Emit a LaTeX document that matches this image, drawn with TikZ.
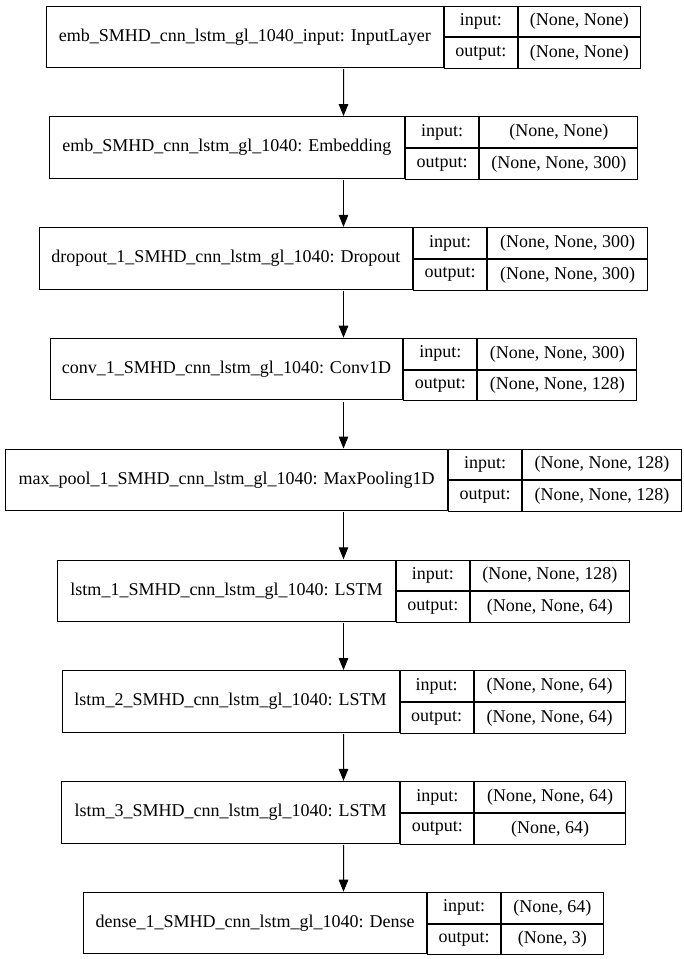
\documentclass[tikz,border=0pt]{standalone}
\usepackage{fontspec}
\setmainfont{Liberation Serif}
\usepackage{tikz}
\usetikzlibrary{arrows.meta,positioning,fit}
\tikzset{
    namecell/.style={
        rectangle,
        draw,
        line width=1pt,
        minimum height=61.5pt,
        inner sep=0pt,
        anchor=north west,
        text centered
    },
    keycell/.style={
        namecell,
        minimum width=73.3pt,
        minimum height=30.75pt
    },
    shapecell/.style={
        keycell
    },
    layerbox/.style={
        inner sep=0pt
    },
    flow/.style={
        -{Triangle[length=12pt,width=9.5pt]},
        line width=1pt
    }
}

\begin{document}
\begin{tikzpicture}[x=1pt,y=-1pt,font=\fontsize{18pt}{21pt}\selectfont]
    \useasboundingbox (0,0) rectangle (684,959);

    % Input layer
    \node[namecell, minimum width=396.6pt] (name1) at (46.05,5.5) {emb\_SMHD\_cnn\_lstm\_gl\_1040\_input: InputLayer};
    \node[keycell] (in1) at (name1.north east) {input:};
    \node[keycell] (out1) at (in1.south west) {output:};
    \node[shapecell, minimum width=122pt] (ishape1) at (in1.north east) {(None, None)};
    \node[shapecell, minimum width=122pt] (oshape1) at (out1.north east) {(None, None)};
    \node[layerbox, fit=(name1)(oshape1)] (layer1) {};

    % Embedding
    \node[namecell, minimum width=355.3pt] (name2) at (48.7,116.3) {emb\_SMHD\_cnn\_lstm\_gl\_1040: Embedding};
    \node[keycell] (in2) at (name2.north east) {input:};
    \node[keycell] (out2) at (in2.south west) {output:};
    \node[shapecell, minimum width=158pt] (ishape2) at (in2.north east) {(None, None)};
    \node[shapecell, minimum width=158pt] (oshape2) at (out2.north east) {(None, None, 300)};
    \node[layerbox, fit=(name2)(oshape2)] (layer2) {};

    % Dropout
    \node[namecell, minimum width=373pt] (name3) at (39,227.1) {dropout\_1\_SMHD\_cnn\_lstm\_gl\_1040: Dropout};
    \node[keycell] (in3) at (name3.north east) {input:};
    \node[keycell] (out3) at (in3.south west) {output:};
    \node[shapecell, minimum width=159.7pt] (ishape3) at (in3.north east) {(None, None, 300)};
    \node[shapecell, minimum width=159.7pt] (oshape3) at (out3.north east) {(None, None, 300)};
    \node[layerbox, fit=(name3)(oshape3)] (layer3) {};

    % Conv1D
    \node[namecell, minimum width=352.3pt] (name4) at (49.85,337.9) {conv\_1\_SMHD\_cnn\_lstm\_gl\_1040: Conv1D};
    \node[keycell] (in4) at (name4.north east) {input:};
    \node[keycell] (out4) at (in4.south west) {output:};
    \node[shapecell, minimum width=158.7pt] (ishape4) at (in4.north east) {(None, None, 300)};
    \node[shapecell, minimum width=158.7pt] (oshape4) at (out4.north east) {(None, None, 128)};
    \node[layerbox, fit=(name4)(oshape4)] (layer4) {};

    % MaxPooling1D
    \node[namecell, minimum width=441.7pt] (name5) at (5.35,448.7) {max\_pool\_1\_SMHD\_cnn\_lstm\_gl\_1040: MaxPooling1D};
    \node[keycell] (in5) at (name5.north east) {input:};
    \node[keycell] (out5) at (in5.south west) {output:};
    \node[shapecell, minimum width=158.3pt] (ishape5) at (in5.north east) {(None, None, 128)};
    \node[shapecell, minimum width=158.3pt] (oshape5) at (out5.north east) {(None, None, 128)};
    \node[layerbox, fit=(name5)(oshape5)] (layer5) {};

    % LSTM 1
    \node[namecell, minimum width=337.4pt] (name6) at (57.3,559.5) {lstm\_1\_SMHD\_cnn\_lstm\_gl\_1040: LSTM};
    \node[keycell] (in6) at (name6.north east) {input:};
    \node[keycell] (out6) at (in6.south west) {output:};
    \node[shapecell, minimum width=158.7pt] (ishape6) at (in6.north east) {(None, None, 128)};
    \node[shapecell, minimum width=158.7pt] (oshape6) at (out6.north east) {(None, None, 64)};
    \node[layerbox, fit=(name6)(oshape6)] (layer6) {};

    % LSTM 2
    \node[namecell, minimum width=337pt] (name7) at (61.5,670.3) {lstm\_2\_SMHD\_cnn\_lstm\_gl\_1040: LSTM};
    \node[keycell] (in7) at (name7.north east) {input:};
    \node[keycell] (out7) at (in7.south west) {output:};
    \node[shapecell, minimum width=150.7pt] (ishape7) at (in7.north east) {(None, None, 64)};
    \node[shapecell, minimum width=150.7pt] (oshape7) at (out7.north east) {(None, None, 64)};
    \node[layerbox, fit=(name7)(oshape7)] (layer7) {};

    % LSTM 3
    \node[namecell, minimum width=338pt] (name8) at (61.1,781.1) {lstm\_3\_SMHD\_cnn\_lstm\_gl\_1040: LSTM};
    \node[keycell] (in8) at (name8.north east) {input:};
    \node[keycell] (out8) at (in8.south west) {output:};
    \node[shapecell, minimum width=150.5pt] (ishape8) at (in8.north east) {(None, None, 64)};
    \node[shapecell, minimum width=150.5pt] (oshape8) at (out8.north east) {(None, 64)};
    \node[layerbox, fit=(name8)(oshape8)] (layer8) {};

    % Dense
    \node[namecell, minimum width=342.6pt] (name9) at (83.4,891.9) {dense\_1\_SMHD\_cnn\_lstm\_gl\_1040: Dense};
    \node[keycell] (in9) at (name9.north east) {input:};
    \node[keycell] (out9) at (in9.south west) {output:};
    \node[shapecell, minimum width=101.3pt] (ishape9) at (in9.north east) {(None, 64)};
    \node[shapecell, minimum width=101.3pt] (oshape9) at (out9.north east) {(None, 3)};
    \node[layerbox, fit=(name9)(oshape9)] (layer9) {};

    % Connections
    \draw[flow] (layer1.south) -- (layer2.north);
    \draw[flow] (layer2.south) -- (layer3.north);
    \draw[flow] (layer3.south) -- (layer4.north);
    \draw[flow] (layer4.south) -- (layer5.north);
    \draw[flow] (layer5.south) -- (layer6.north);
    \draw[flow] (layer6.south) -- (layer7.north);
    \draw[flow] (layer7.south) -- (layer8.north);
    \draw[flow] (layer8.south) -- (layer9.north);
\end{tikzpicture}
\end{document}
